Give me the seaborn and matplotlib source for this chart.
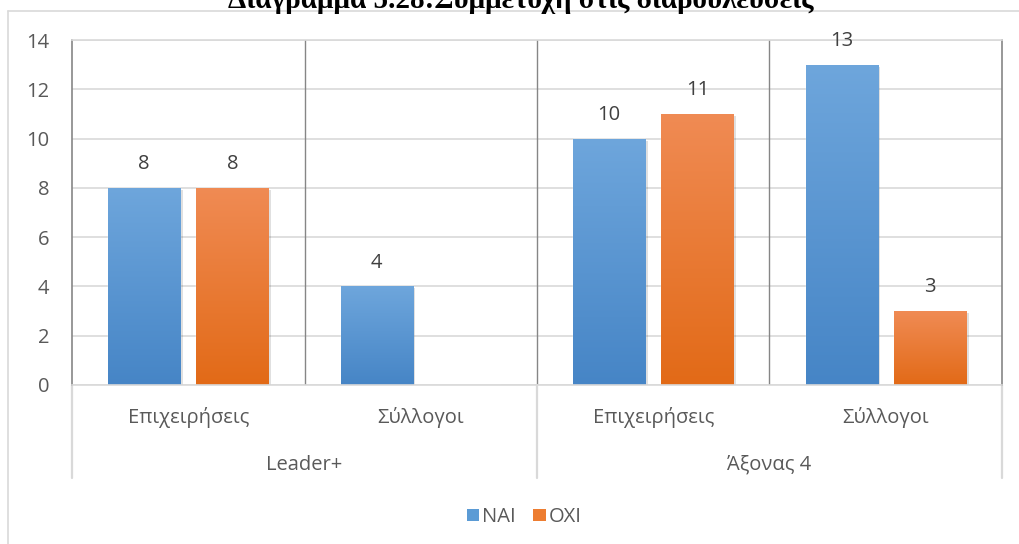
import numpy as np
import pandas as pd
import matplotlib
matplotlib.use("Agg")
import matplotlib.pyplot as plt
import seaborn as sns
from matplotlib.lines import Line2D
from matplotlib.patches import Patch
from matplotlib.colors import LinearSegmentedColormap

# ---- data ----
groups = ["Leader+", "Leader+", "Άξονας 4", "Άξονας 4"]
categories = ["Επιχειρήσεις", "Σύλλογοι", "Επιχειρήσεις", "Σύλλογοι"]
series = ["NAI", "OXI"]
nai = [8, 4, 10, 13]
oxi = [8, 0, 11, 3]
group_labels = ["Leader+", "Άξονας 4"]
title = "Διάγραμμα 5.28:Συμμετοχή στις διαβουλεύσεις"

keys = [f"{g}|{c}" for g, c in zip(groups, categories)]
df = pd.DataFrame({
    "key": keys * 2,
    "series": [series[0]] * 4 + [series[1]] * 4,
    "value": nai + oxi,
})

sns.set_theme(style="white")
plt.rcParams["font.family"] = ["Open Sans", "DejaVu Sans"]

FS = 14.5
fig = plt.figure(figsize=(10.19, 5.44), dpi=100)
W, H = 1019, 544
ax = fig.add_axes([72 / W, 1 - 385 / H, (1002 - 72) / W, (385 - 40) / H])

palette = {"NAI": "#5b9bd5", "OXI": "#ed7d31"}
sns.barplot(data=df, x="key", y="value", hue="series", order=keys,
            hue_order=series, palette=palette, width=0.76, gap=0.184,
            ax=ax, legend=False, saturation=1)

ax.set_xlim(-0.5, 3.5)
ax.set_ylim(0, 14)
ax.set_yticks(range(0, 15, 2))
ax.tick_params(axis="y", labelsize=FS, labelcolor="#595959", length=0, pad=16.5)
ax.set_xticks([])
ax.set_xlabel("")
ax.set_ylabel("")
ax.yaxis.grid(True, color="#d9d9d9", linewidth=1.2)
ax.set_axisbelow(True)
ax.spines["top"].set_color("#d9d9d9")
ax.spines["top"].set_linewidth(1.2)
ax.spines["bottom"].set_color("#d9d9d9")
ax.spines["bottom"].set_linewidth(1.2)
for s in ["left", "right"]:
    ax.spines[s].set_color("#868686")
    ax.spines[s].set_linewidth(1.2)

# gradients on bars
grads = {
    "NAI": LinearSegmentedColormap.from_list("b", ["#4685c6", "#6ea6dc"]),
    "OXI": LinearSegmentedColormap.from_list("o", ["#e26a17", "#f08b54"]),
}
for cont, s in zip(ax.containers, series):
    for p in cont:
        h = p.get_height()
        if h <= 0:
            continue
        x0, y0 = p.get_x(), p.get_y()
        w = p.get_width()
        sh = matplotlib.patches.Rectangle((x0 + 0.012, y0 - 0.08), w, h,
                                          facecolor="#000000", alpha=0.12,
                                          edgecolor="none", zorder=1.5)
        ax.add_patch(sh)
        grad = np.linspace(0, 1, 256).reshape(-1, 1)
        im = ax.imshow(grad, cmap=grads[s], aspect="auto",
                       extent=[x0, x0 + w, y0, y0 + h], origin="lower",
                       zorder=2.5)
        im.set_clip_path(p)
    labels = [f"{int(v)}" if v > 0 else "" for v in cont.datavalues]
    ax.bar_label(cont, labels=labels, padding=10, fontsize=FS, color="#404040")
ax.set_xlim(-0.5, 3.5)
ax.set_ylim(0, 14)

# category / group separators inside plot
for xs in [0.25, 0.5, 0.75]:
    ax.plot([xs, xs], [0, 1], transform=ax.transAxes, color="#868686",
            linewidth=1.0, zorder=1)

# multi-level axis below
ext = -(478 - 385) / (385 - 40)
for xs in [0.0, 0.5, 1.0]:
    ax.plot([xs, xs], [0, ext], transform=ax.transAxes, color="#d9d9d9",
            linewidth=1.6, clip_on=False)

for i, c in enumerate(categories):
    ax.text((i + 0.5) / 4, -(418 - 385) / 345, c, transform=ax.transAxes,
            ha="center", va="center", fontsize=FS, color="#595959")
for j, g in enumerate(group_labels):
    ax.text((j + 0.5) / 2, -(465 - 385) / 345, g, transform=ax.transAxes,
            ha="center", va="center", fontsize=FS, color="#595959")

# outer chart frame
fig.add_artist(Line2D([8 / W, 1], [1 - 11 / H, 1 - 11 / H],
                      transform=fig.transFigure, color="#d9d9d9", linewidth=1.2))
fig.add_artist(Line2D([8 / W, 8 / W], [0, 1 - 11 / H],
                      transform=fig.transFigure, color="#d9d9d9", linewidth=1.2))

# title (cropped at top as in the reference)
fig.text(521 / W, 1 - 8.5 / H, title, ha="center", va="baseline",
         fontsize=21, fontweight="bold", family="Liberation Serif", color="#000000")

# legend
handles = [Patch(facecolor="#5b9bd5", edgecolor="none"),
           Patch(facecolor="#ed7d31", edgecolor="none")]
fig.legend(handles, series, loc="center", bbox_to_anchor=(524 / W, 1 - 517 / H),
           ncol=2, frameon=False, fontsize=FS, handlelength=0.6,
           handleheight=0.6, handletextpad=0.15, columnspacing=0.9,
           labelcolor="#595959")

fig.savefig("out.png", dpi=100)
